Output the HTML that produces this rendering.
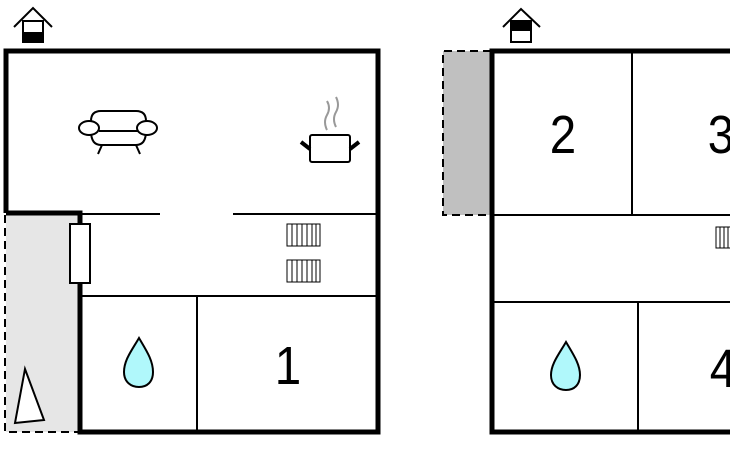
<!DOCTYPE html>
<html><head><style>body{margin:0;background:#fff}svg{display:block}</style></head><body>
<svg width="730" height="450" viewBox="0 0 730 450" xmlns="http://www.w3.org/2000/svg" font-family="Liberation Sans, sans-serif">
<rect x="6" y="215" width="73" height="217" fill="#e6e6e6"/>
<path d="M5 215 V432 H78" fill="none" stroke="#000" stroke-width="2" stroke-dasharray="8,5"/>
<path d="M6 213 V51 H378 V432 H80 V213 H6" fill="none" stroke="#000" stroke-width="5"/>
<g stroke="#000" stroke-width="2" fill="none">
<path d="M80 214 H160 M233 214 H378 M80 296 H378 M197 296 V432"/>
</g>
<rect x="70" y="224" width="20" height="59" fill="#fff" stroke="#000" stroke-width="2"/>
<path d="M25 369 L15 423 L44 420 Z" fill="#fff" stroke="#000" stroke-width="2"/>
<g stroke="#000" stroke-width="1" fill="#fff">
<rect x="287" y="224" width="33" height="22"/><rect x="287" y="260" width="33" height="22"/>
<path d="M292 224V246M297 224V246M302 224V246M307 224V246M312 224V246M316 224V246M292 260V282M297 260V282M302 260V282M307 260V282M312 260V282M316 260V282"/>
<rect x="716" y="227" width="16" height="21"/>
<path d="M720 227V248M724 227V248M728 227V248"/>
</g>
<path d="M139 338 C132 350 124 360 124 372 C124 382 131 387 139 387 C147 387 153 382 153 372 C153 360 146 350 139 338Z" fill="#b0f8fb" stroke="#000" stroke-width="2"/>
<path d="M566 342 C559 354 551 364 551 375 C551 385 558 390 566 390 C574 390 580 385 580 375 C580 364 573 354 566 342Z" fill="#b0f8fb" stroke="#000" stroke-width="2"/>
<g stroke="#000" stroke-width="2" fill="#fff">
<path d="M91 131 V121 Q91 111 101 111 H136 Q146 111 146 121 V131 Q146 145 136 145 H101 Q91 145 91 131Z"/>
<ellipse cx="89" cy="128" rx="10" ry="7"/><ellipse cx="147" cy="128" rx="10" ry="7"/>
<path d="M99 131 H138 M102 145 L98 154 M136 145 L140 154" fill="none"/>
</g>
<rect x="310" y="135" width="40" height="27" rx="2" fill="#fff" stroke="#000" stroke-width="2"/>
<path d="M301 142 L310 149 M359 142 L350 149" stroke="#000" stroke-width="4"/>
<path d="M327 130 Q323 122 327 115 Q331 108 327 101 M336 127 Q332 119 336 112 Q340 105 336 97" stroke="#999" stroke-width="2" fill="none"/>
<path d="M14 27 L33 8 L52 27" fill="none" stroke="#000" stroke-width="2"/>
<rect x="23" y="21" width="20" height="21" fill="#fff" stroke="#000" stroke-width="2"/>
<rect x="23" y="32" width="20" height="10" fill="#000"/>
<path d="M503 27 L521 9 L540 27" fill="none" stroke="#000" stroke-width="2"/>
<rect x="511" y="21" width="20" height="21" fill="#fff" stroke="#000" stroke-width="2"/>
<rect x="511" y="21" width="20" height="10" fill="#000"/>
<rect x="443" y="51" width="48" height="164" fill="#c0c0c0"/>
<path d="M491 51 H443 V215 H491" fill="none" stroke="#000" stroke-width="2" stroke-dasharray="8,5"/>
<path d="M740 51 H492 V432 H740" fill="none" stroke="#000" stroke-width="5"/>
<g stroke="#000" stroke-width="2" fill="none">
<path d="M492 215 H730 M632 51 V215 M492 302 H730 M638 302 V432"/>
</g>
<g font-size="54" text-anchor="middle" fill="#000">
<text transform="translate(288 384) scale(0.88 1)">1</text>
<text transform="translate(563 153) scale(0.88 1)">2</text>
<text transform="translate(721 153) scale(0.88 1)">3</text>
<text transform="translate(723 387) scale(0.88 1)">4</text>
</g>
</svg>
</body></html>
